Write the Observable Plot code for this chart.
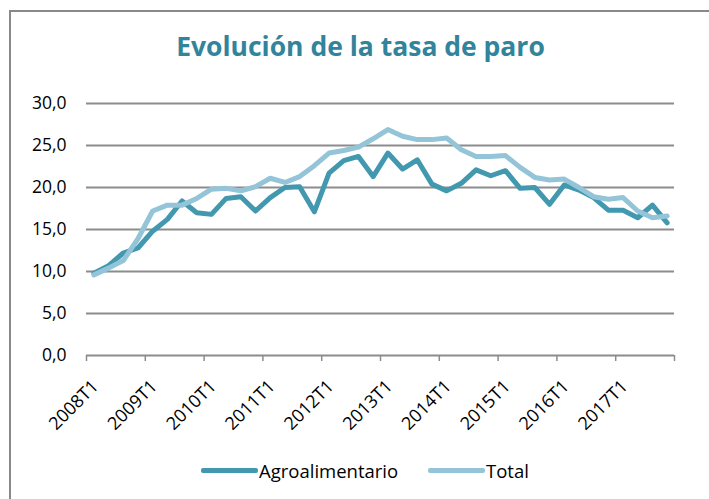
<!DOCTYPE html>
<html>
<head>
<meta charset="utf-8">
<script src="https://cdn.jsdelivr.net/npm/d3@7"></script>
<script src="https://cdn.jsdelivr.net/npm/@observablehq/plot@0.6"></script>
<style>
  html, body { margin: 0; padding: 0; background: #fff; overflow: hidden; }
  #frame { position: absolute; left: 9px; top: 10px; width: 760px; height: 560px; border: 2px solid #898989; box-sizing: border-box; }
  #wrap { position: absolute; left: 0; top: 0; width: 709px; }
  #title { height: 90px; box-sizing: border-box; padding-top: 28px; text-align: center; font-family: "Open Sans", sans-serif; font-weight: bold; font-size: 26.5px; color: #31849B; padding-left: 12px; }
  #legend { position: absolute; left: 0; top: 458px; width: 709px; font-family: "Open Sans", sans-serif; font-size: 18.5px; color: #000; }
  .item { position: absolute; top: 0; display: flex; align-items: center; height: 24px; }
  .sw { width: 57px; height: 5px; border-radius: 2px; margin-right: 1px; }
</style>
</head>
<body>
<div id="frame"></div>
<div id="wrap">
  <div id="title">Evolución de la tasa de paro</div>
  <div id="chart"></div>
</div>
<div id="legend"></div>
<script>
const quarters = [];
for (let y = 2008; y <= 2017; y++) for (let q = 1; q <= 4; q++) quarters.push(y + "T" + q);

const seriesNames = ["Agroalimentario", "Total"];
const seriesColors = ["#4198AF", "#93C4D7"];

const agroalimentario = [9.8, 10.7, 12.2, 12.8, 14.8, 16.2, 18.4, 17.0, 16.8, 18.7, 18.9, 17.2, 18.8, 20.0, 20.1, 17.1, 21.7, 23.2, 23.7, 21.3, 24.1, 22.2, 23.3, 20.4, 19.6, 20.5, 22.1, 21.4, 22.0, 19.9, 20.0, 18.0, 20.3, 19.7, 18.8, 17.3, 17.3, 16.4, 17.9, 15.8];
const total = [9.6, 10.4, 11.3, 13.9, 17.2, 17.9, 17.9, 18.7, 19.8, 19.9, 19.6, 20.1, 21.1, 20.6, 21.3, 22.6, 24.1, 24.4, 24.8, 25.8, 26.9, 26.1, 25.7, 25.7, 25.9, 24.5, 23.7, 23.7, 23.8, 22.4, 21.2, 20.9, 21.0, 20.0, 18.9, 18.6, 18.8, 17.2, 16.4, 16.6];

const yTicks = [0, 5, 10, 15, 20, 25, 30];

const rows = [];
[agroalimentario, total].forEach((vals, s) => {
  vals.forEach((v, i) => rows.push({serie: seriesNames[s], i, q: quarters[i], v}));
});

const tickPos = d3.range(-0.5, quarters.length, 4);
const labelPos = tickPos.slice(0, -1);
const fmt = d3.format(".1f");

const chart = Plot.plot({
  width: 709,
  height: 360,
  marginLeft: 86,
  marginRight: 35,
  marginTop: 13,
  marginBottom: 95,
  style: { fontFamily: "'Open Sans', sans-serif", fontSize: "16px", color: "#000", background: "transparent", overflow: "visible" },
  x: { domain: [-0.5, quarters.length - 0.5] },
  y: { domain: [0, 30] },
  color: { domain: seriesNames, range: seriesColors },
  marks: [
    Plot.ruleY(yTicks, { stroke: "#8c8c8c", strokeWidth: 2 }),
    Plot.axisX({
      ticks: tickPos,
      tickFormat: null,
      text: null,
      tickSize: 6,
      stroke: "#8c8c8c",
      strokeWidth: 1.5,
      strokeOpacity: 1,
      label: null
    }),
    Plot.axisX({
      ticks: labelPos,
      tickFormat: d => quarters[Math.round(d + 0.5)],
      tickRotate: -45,
      tickSize: 0,
      tickPadding: 28,
      dx: 9,
      fontSize: 18,
      label: null
    }),
    Plot.axisY({
      ticks: yTicks,
      tickFormat: d => fmt(d).replace(".", ","),
      tickSize: 0,
      tickPadding: 20,
      fontSize: 17.5,
      label: null
    }),
    Plot.line(rows, { x: "i", y: "v", z: "serie", stroke: "serie", strokeWidth: 5, strokeLinejoin: "round", strokeLinecap: "round" })
  ]
});
document.getElementById("chart").appendChild(chart);

const legend = document.getElementById("legend");
const lefts = [201, 428];
seriesNames.forEach((n, k) => {
  const it = document.createElement("div");
  it.className = "item";
  it.style.left = lefts[k] + "px";
  const sw = document.createElement("div");
  sw.className = "sw";
  sw.style.background = seriesColors[k];
  const t = document.createElement("span");
  t.textContent = n;
  it.appendChild(sw); it.appendChild(t);
  legend.appendChild(it);
});
</script>
</body>
</html>
